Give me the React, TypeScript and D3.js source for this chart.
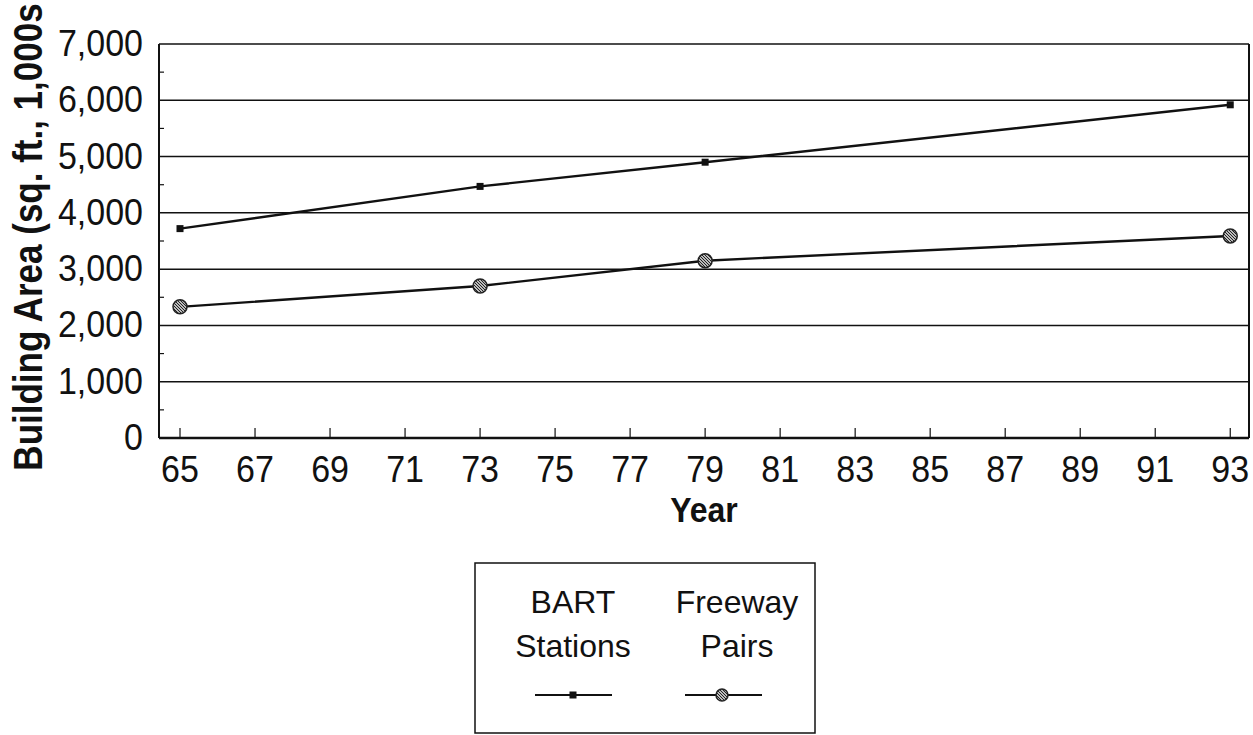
import React from 'react';
import * as d3 from 'd3';

// data
const years = [65, 73, 79, 93];
const bart = [3720, 4470, 4900, 5920];
const freeway = [2330, 2700, 3150, 3590];
const xTickYears = [65, 67, 69, 71, 73, 75, 77, 79, 81, 83, 85, 87, 89, 91, 93];
const yTicks = [0, 1000, 2000, 3000, 4000, 5000, 6000, 7000];
const yMinor = [500, 1500, 2500, 3500, 4500, 5500, 6500];
const legendNames = [['BART', 'Stations'], ['Freeway', 'Pairs']];

const W = 1253;
const H = 735;
const plot = { left: 159, right: 1249, top: 44, bottom: 438 };
const font = '"Liberation Sans", Arial, sans-serif';

const App: React.FC = () => {
  const x = d3.scaleLinear().domain([64.44, 93.5]).range([plot.left, plot.right]);
  const y = d3.scaleLinear().domain([0, 7000]).range([plot.bottom, plot.top]);
  const fmt = d3.format(',');

  const line = d3.line<number>()
    .x((_, i) => x(years[i]))
    .y(d => y(d));

  return (
    <svg width={W} height={H} style={{ position: 'absolute', left: 0, top: 0, background: '#fff' }}>
      <defs>
        <pattern id="hatch" width="3" height="3" patternUnits="userSpaceOnUse">
          <rect width="3" height="3" fill="#bbb" />
          <path d="M0,0 L3,3" stroke="#222" strokeWidth="1" />
        </pattern>
      </defs>

      {/* grid lines */}
      {yTicks.map(t => (
        <line key={t} x1={plot.left} x2={plot.right} y1={y(t)} y2={y(t)} stroke="#111" strokeWidth={1.5} />
      ))}
      {/* frame */}
      <line x1={plot.left} x2={plot.left} y1={plot.top} y2={plot.bottom} stroke="#111" strokeWidth={2} />
      <line x1={plot.right} x2={plot.right} y1={plot.top} y2={plot.bottom} stroke="#111" strokeWidth={2} />
      <line x1={plot.left} x2={plot.right} y1={plot.bottom} y2={plot.bottom} stroke="#111" strokeWidth={2.5} />

      {/* minor y ticks */}
      {yMinor.map(t => (
        <line key={t} x1={plot.left} x2={plot.left + 5} y1={y(t)} y2={y(t)} stroke="#111" strokeWidth={1.2} />
      ))}
      {/* x ticks */}
      {xTickYears.map(t => (
        <line key={t} x1={x(t)} x2={x(t)} y1={plot.bottom} y2={plot.bottom - 10} stroke="#111" strokeWidth={1.2} />
      ))}

      {/* y tick labels */}
      {yTicks.map(t => (
        <text key={t} transform={`translate(143,${y(t) + 12}) scale(1,1.1)`} textAnchor="end" fontFamily={font} fontSize={34} fill="#111">
          {fmt(t)}
        </text>
      ))}
      {/* x tick labels */}
      {xTickYears.map(t => (
        <text key={t} transform={`translate(${x(t)},482) scale(1,1.1)`} textAnchor="middle" fontFamily={font} fontSize={34} fill="#111">
          {t}
        </text>
      ))}

      {/* axis titles */}
      <text transform="translate(704,522) scale(1,1.1)" textAnchor="middle" fontFamily={font} fontSize={32} fontWeight="bold" fill="#111">Year</text>
      <text transform="translate(42,237) rotate(-90) scale(1,1.15)" textAnchor="middle" fontFamily={font} fontSize={35} fontWeight="bold" fill="#111">
        Building Area (sq. ft., 1,000s
      </text>

      {/* series */}
      <path d={line(bart) ?? ''} fill="none" stroke="#111" strokeWidth={2.4} />
      <path d={line(freeway) ?? ''} fill="none" stroke="#111" strokeWidth={2.4} />
      {bart.map((v, i) => (
        <rect key={i} x={x(years[i]) - 3.5} y={y(v) - 3.5} width={7} height={7} fill="#111" />
      ))}
      {freeway.map((v, i) => (
        <circle key={i} cx={x(years[i])} cy={y(v)} r={7} fill="url(#hatch)" stroke="#222" strokeWidth={1.5} />
      ))}

      {/* legend */}
      <rect x={475} y={563} width={340} height={170} fill="none" stroke="#111" strokeWidth={1.5} />
      {legendNames.map((n, k) => {
        const cx = k === 0 ? 573 : 737;
        const lx = k === 0 ? [535, 612] : [685, 762];
        const mx = k === 0 ? 573 : 722;
        return (
          <g key={k}>
            <text x={cx} y={613} textAnchor="middle" fontFamily={font} fontSize={32} fill="#111">{n[0]}</text>
            <text x={cx} y={657} textAnchor="middle" fontFamily={font} fontSize={32} fill="#111">{n[1]}</text>
            <line x1={lx[0]} x2={lx[1]} y1={695} y2={695} stroke="#111" strokeWidth={2} />
            {k === 0
              ? <rect x={mx - 3.5} y={691.5} width={7} height={7} fill="#111" />
              : <circle cx={mx} cy={695} r={6} fill="url(#hatch)" stroke="#222" strokeWidth={1.5} />}
          </g>
        );
      })}
    </svg>
  );
};

export default App;
